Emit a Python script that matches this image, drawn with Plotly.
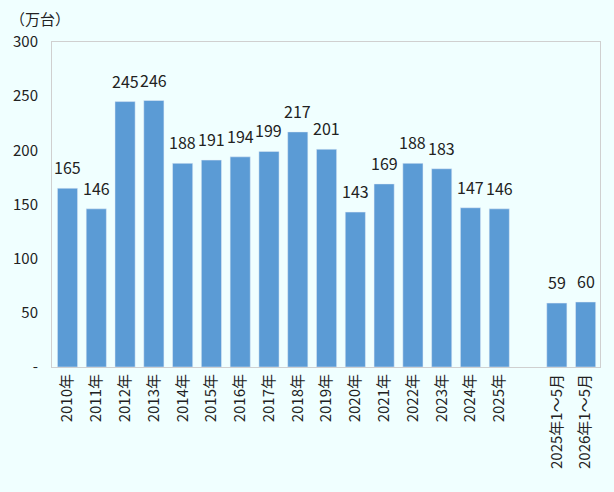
import plotly.graph_objects as go

categories = ["2010年", "2011年", "2012年", "2013年", "2014年", "2015年", "2016年", "2017年",
              "2018年", "2019年", "2020年", "2021年", "2022年", "2023年", "2024年", "2025年",
              " ", "2025年1～5月", "2026年1～5月"]
values = [165, 146, 245, 246, 188, 191, 194, 199, 217, 201, 143, 169, 188, 183, 147, 146,
          None, 59, 60]
y_ticks = [0, 50, 100, 150, 200, 250, 300]
y_tick_text = ["-", "50", "100", "150", "200", "250", "300"]

bg = "#F0FFFF"
font_family = "Noto Sans CJK JP, Noto Sans, sans-serif"

fig = go.Figure(go.Bar(
    x=categories, y=values, marker_color="#5B9BD5", hoverinfo="x+y",
))

value_labels = [
    dict(x=c, y=v, text=str(v), xref="x", yref="y", yanchor="bottom", yshift=7,
         showarrow=False, font=dict(size=16, color="#222222"))
    for c, v in zip(categories, values) if v is not None
]
unit_label = dict(text="（万台）", xref="paper", yref="paper", x=-0.08, y=1.035,
                  xanchor="left", yanchor="bottom", showarrow=False,
                  font=dict(size=15, color="#222222"))

fig.update_layout(
    width=614, height=492, paper_bgcolor=bg, plot_bgcolor=bg,
    margin=dict(l=52, r=14, t=42, b=125),
    font=dict(family=font_family, size=15, color="#222222"),
    bargap=0.3, showlegend=False,
    annotations=value_labels + [unit_label],
)
fig.update_xaxes(type="category", tickangle=-90, tickfont=dict(size=15), automargin=False,
                 showline=True, linecolor="#D0D0D0", mirror=True, ticks="")
fig.update_yaxes(range=[0, 300], tickvals=y_ticks, ticktext=y_tick_text, showgrid=False,
                 showline=True, linecolor="#D0D0D0", mirror=True, zeroline=False,
                 tickfont=dict(size=15), automargin=False, ticklabelstandoff=10)
fig.write_html("out.html", config={"displayModeBar": False},
               post_script="document.body.style.margin='0';document.body.style.background='#F0FFFF';")
